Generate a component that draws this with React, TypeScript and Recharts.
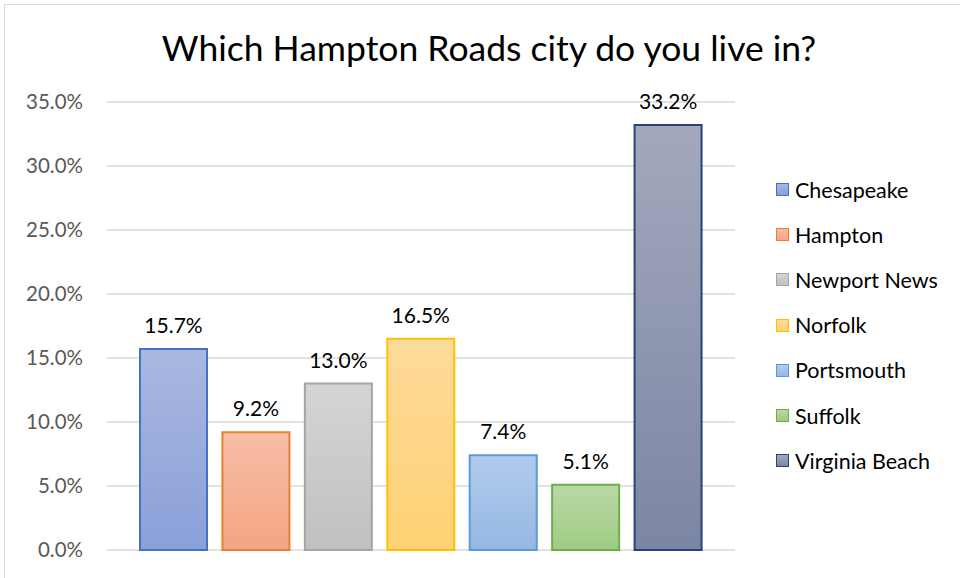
import React from "react";
import { BarChart, Bar, XAxis, YAxis, CartesianGrid, Cell, LabelList, Legend } from "recharts";

const cities = ["Chesapeake", "Hampton", "Newport News", "Norfolk", "Portsmouth", "Suffolk", "Virginia Beach"];
const shares = [15.7, 9.2, 13.0, 16.5, 7.4, 5.1, 33.2];
const yTicks = [0, 5, 10, 15, 20, 25, 30, 35];

const strokes = ["#4472c4", "#ed7d31", "#a5a5a5", "#ffc000", "#5b9bd5", "#70ad47", "#264478"];
const topFills = ["#aab8e1", "#f7bea6", "#d5d5d5", "#fedb9b", "#b2cbec", "#bad8a8", "#a3a8bd"];
const bottomFills = ["#8aa0d8", "#f4a482", "#c0c0c0", "#fed174", "#94b8e3", "#9ecb84", "#7c85a3"];

const data = cities.map((city, i) => ({ city, share: shares[i] }));

const FONT = "Lato, 'Noto Sans', sans-serif";
const LEGEND_W = 184;

const renderLegend = () => (
  <div style={{ fontFamily: FONT, fontSize: 21.5, color: "#000" }}>
    {cities.map((c, i) => (
      <div key={c} style={{ display: "flex", alignItems: "center", height: 45.2, whiteSpace: "nowrap" }}>
        <span
          style={{
            display: "inline-block",
            flex: "none",
            width: 11,
            height: 11,
            border: `1.5px solid ${strokes[i]}`,
            background: `linear-gradient(${topFills[i]}, ${bottomFills[i]})`,
            marginRight: 6,
          }}
        />
        {c}
      </div>
    ))}
  </div>
);

export default function App() {
  return (
    <div style={{ position: "absolute", left: 0, top: 0, width: 960, height: 578, overflow: "hidden", background: "#fff" }}>
      <div
        style={{
          position: "absolute",
          left: 4,
          top: 4,
          width: 1000,
          height: 1000,
          border: "1px solid #d9d9d9",
        }}
      />
      <div
        style={{
          position: "absolute",
          left: 0,
          top: 26,
          width: 978,
          textAlign: "center",
          fontFamily: FONT,
          fontSize: 35.5,
          color: "#000",
        }}
      >
        Which Hampton Roads city do you live in?
      </div>
      <div style={{ position: "absolute", left: 0, top: 0 }}>
        <BarChart width={960} height={578} data={data} margin={{ top: 102, right: 225 - LEGEND_W, bottom: 28, left: 0 }}>
          <defs>
            {cities.map((c, i) => (
              <linearGradient key={c} id={`grad${i}`} x1="0" y1="0" x2="0" y2="1">
                <stop offset="0%" stopColor={topFills[i]} />
                <stop offset="100%" stopColor={bottomFills[i]} />
              </linearGradient>
            ))}
          </defs>
          <CartesianGrid vertical={false} stroke="#d9d9d9" strokeWidth={1.3} />
          <XAxis dataKey="city" hide padding={{ left: 25, right: 26 }} />
          <YAxis
            width={107}
            domain={[0, 35]}
            ticks={yTicks}
            interval={0}
            axisLine={false}
            tickLine={false}
            tickSize={6}
            tickMargin={18}
            tickFormatter={(v: number) => `${v.toFixed(1)}%`}
            tick={{ fill: "#595959", fontSize: 20.5, fontFamily: FONT }}
          />
          <Legend
            layout="vertical"
            align="right"
            verticalAlign="top"
            content={renderLegend}
            wrapperStyle={{ left: 776, top: 167, width: LEGEND_W }}
          />
          <Bar dataKey="share" barSize={67} isAnimationActive={false} strokeWidth={2}>
            {data.map((d, i) => (
              <Cell key={d.city} fill={`url(#grad${i})`} stroke={strokes[i]} />
            ))}
            <LabelList
              dataKey="share"
              position="top"
              offset={16}
              formatter={(v: number) => `${v.toFixed(1)}%`}
              style={{ fill: "#000", fontSize: 21, fontFamily: FONT }}
            />
          </Bar>
        </BarChart>
      </div>
    </div>
  );
}
